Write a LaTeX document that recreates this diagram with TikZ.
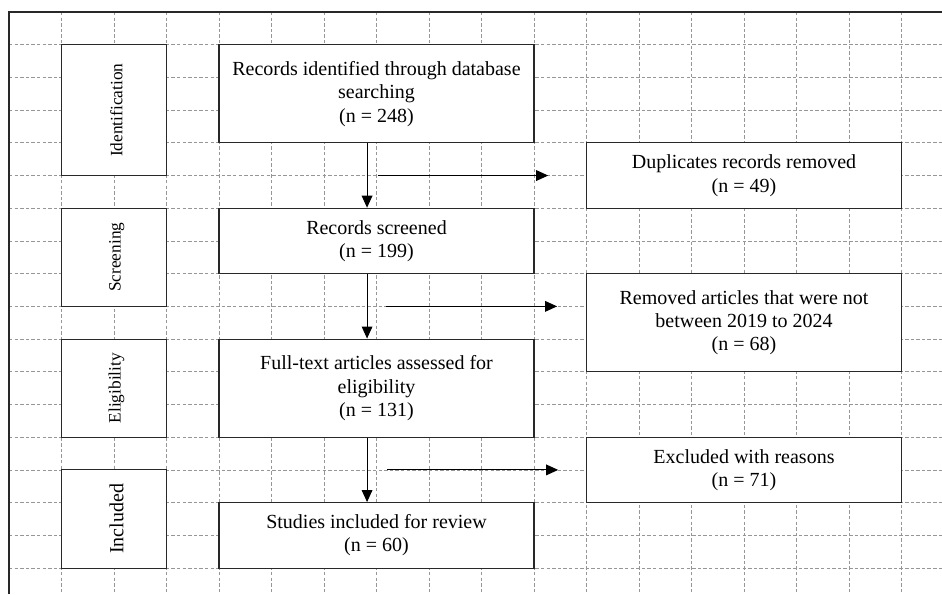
\documentclass[tikz,border=0pt]{standalone}
\usepackage{fontspec}
\setmainfont{Liberation Serif}
\usetikzlibrary{arrows.meta}
\definecolor{gridgray}{RGB}{150,150,150}
\definecolor{boxline}{RGB}{40,40,40}
\begin{document}
\begin{tikzpicture}[x=39.375pt, y=-24.53pt,
  gridline/.style={draw=gridgray, line width=0.6pt, dash pattern=on 2.6pt off 1.6pt},
  frameline/.style={draw=boxline, line width=0.9pt},
  box/.style={draw=boxline, line width=0.8pt, fill=white, inner sep=0pt, align=center,
    font=\fontsize{15}{17.5}\selectfont, execute at begin node={\rule{0pt}{14.2pt}}},
  stage/.style={draw=boxline, line width=0.8pt, fill=white, inner sep=0pt, align=center,
    rotate=90, font=\fontsize{13}{15}\selectfont, execute at begin node={\rule{0pt}{12.6pt}}},
  bigstage/.style={stage, font=\fontsize{15}{17.5}\selectfont, execute at begin node={\rule{0pt}{14.2pt}}},
  arr/.style={draw=black, line width=0.75pt, -{Triangle[length=9pt,width=8pt]}}]
\useasboundingbox (-0.1714,-0.3669) rectangle (17.771,17.795);
% grid
\foreach \r in {1,...,17} \draw[gridline] (0,\r) -- (17.771,\r);
\foreach \c in {1,...,17} \draw[gridline] (\c,0) -- (\c,17.795);
\draw[frameline] (0,17.795) -- (0,0) -- (17.771,0);
% stage boxes (rotated: width = vertical extent)
\node[stage, minimum width=4*24.53pt, minimum height=2*39.375pt] (sid) at (2,3) {Identification};
\node[stage, minimum width=3*24.53pt, minimum height=2*39.375pt] (ssc) at (2,7.5) {Screening};
\node[stage, minimum width=3*24.53pt, minimum height=2*39.375pt] (sel) at (2,11.5) {Eligibility};
\node[bigstage, minimum width=3*24.53pt, minimum height=2*39.375pt] (sin) at (2,15.5) {Included};
% main boxes
\node[box, minimum width=6*39.375pt, minimum height=3*24.53pt] (rid) at (7,2.5) {Records identified through database\\searching\\(n = 248)};
\node[box, minimum width=6*39.375pt, minimum height=2*24.53pt] (rsc) at (7,7) {Records screened\\(n = 199)};
\node[box, minimum width=6*39.375pt, minimum height=3*24.53pt] (fta) at (7,11.5) {Full-text articles assessed for\\eligibility\\(n = 131)};
\node[box, minimum width=6*39.375pt, minimum height=2*24.53pt] (stu) at (7,16) {Studies included for review\\(n = 60)};
% side boxes
\node[box, minimum width=6*39.375pt, minimum height=2*24.53pt] (dup) at (14,5) {Duplicates records removed\\(n = 49)};
\node[box, minimum width=6*39.375pt, minimum height=3*24.53pt] (rem) at (14,9.5) {Removed articles that were not\\between 2019 to 2024\\(n = 68)};
\node[box, minimum width=6*39.375pt, minimum height=2*24.53pt] (exc) at (14,14) {Excluded with reasons\\(n = 71)};
% vertical arrows
\coordinate (ax) at (6.82,0);
\draw[arr] (rid.south -| ax) -- (rsc.north -| ax);
\draw[arr] (rsc.south -| ax) -- (fta.north -| ax);
\draw[arr] (fta.south -| ax) -- (stu.north -| ax);
% horizontal arrows
\coordinate (h1s) at (7.03,5);
\coordinate (h1e) at (10.27,5);
\coordinate (h2s) at (7.18,9);
\coordinate (h2e) at (10.44,9);
\coordinate (h3s) at (7.2,14);
\coordinate (h3e) at (10.46,14);
\draw[arr] (h1s) -- (h1e);
\draw[arr] (h2s) -- (h2e);
\draw[arr] (h3s) -- (h3e);
\end{tikzpicture}
\end{document}
